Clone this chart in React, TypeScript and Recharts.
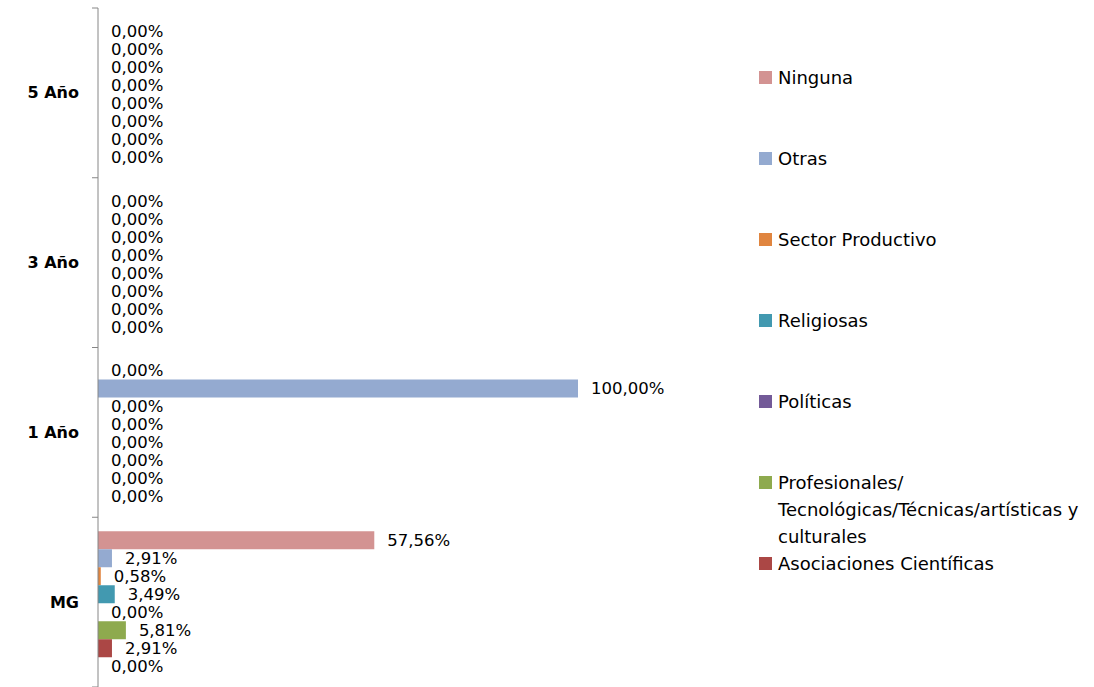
import { BarChart, Bar, XAxis, YAxis, Legend, LabelList } from "recharts";

// categories, top to bottom
const categories = ["5 Año", "3 Año", "1 Año", "MG"];

const seriesNames = [
  "Ninguna",
  "Otras",
  "Sector Productivo",
  "Religiosas",
  "Políticas",
  "Profesionales/ Tecnológicas/Técnicas/artísticas y culturales",
  "Asociaciones Científicas",
  "Serie 8",
];
const seriesColors = ["#D39392", "#94AAD0", "#E0853F", "#4299B0", "#735A98", "#8EAA4E", "#AB4745", "#4F81BD"];

// values per category (5 Año, 3 Año, 1 Año, MG)
const ninguna = [0, 0, 0, 57.56];
const otras = [0, 0, 100, 2.91];
const sectorProductivo = [0, 0, 0, 0.58];
const religiosas = [0, 0, 0, 3.49];
const politicas = [0, 0, 0, 0];
const profesionales = [0, 0, 0, 5.81];
const asociaciones = [0, 0, 0, 2.91];
const serie8 = [0, 0, 0, 0];

const seriesValues = [ninguna, otras, sectorProductivo, religiosas, politicas, profesionales, asociaciones, serie8];

const data = categories.map((name, i) => {
  const row: Record<string, string | number> = { name };
  seriesValues.forEach((vals, s) => {
    row["s" + s] = vals[i];
  });
  return row;
});

const AXIS_COLOR = "#868686";
const TICK_SIZE = 6;
const TICK_MARGIN = 13;
const FONT = "'DejaVu Sans', sans-serif";

const fmt = (v: any) => Number(v).toFixed(2).replace(".", ",") + "%";

function CategoryTick(props: any) {
  const { x, y, payload, index, visibleTicksCount } = props;
  const half = payload && payload.offset ? payload.offset : 0;
  const lx = x + TICK_MARGIN;
  return (
    <g>
      <line x1={lx} x2={lx + TICK_SIZE} y1={y - half} y2={y - half} stroke={AXIS_COLOR} />
      {index === visibleTicksCount - 1 && (
        <line x1={lx} x2={lx + TICK_SIZE} y1={y + half} y2={y + half} stroke={AXIS_COLOR} />
      )}
      <text
        x={x}
        y={y}
        textAnchor="end"
        dominantBaseline="central"
        fontFamily={FONT}
        fontWeight="bold"
        fontSize={16}
        fill="#000"
      >
        {payload.value}
      </text>
    </g>
  );
}

function LegendContent(props: any) {
  const items = (props.payload || [])
    .filter((p: any) => p.type !== "none")
    .slice()
    .sort((a: any, b: any) => seriesNames.indexOf(a.value) - seriesNames.indexOf(b.value));
  return (
    <div style={{ fontFamily: FONT, fontSize: 18, lineHeight: "27px", color: "#000" }}>
      {items.map((p: any) => {
        const words = String(p.value).split(" ");
        return (
          <div key={p.value} style={{ height: 81, display: "flex", alignItems: "flex-start" }}>
            <span
              style={{
                width: 13,
                height: 13,
                marginTop: 7,
                marginRight: 6,
                background: p.color,
                flex: "none",
              }}
            />
            <div style={{ width: 314 }}>
              {words.map((w: string, i: number) => (
                <span key={i}>
                  {i > 0 ? " " : ""}
                  <span style={{ whiteSpace: "nowrap" }}>{w}</span>
                </span>
              ))}
            </div>
          </div>
        );
      })}
    </div>
  );
}

export default function App() {
  return (
    <div style={{ position: "absolute", left: 0, top: 0, width: 1094, height: 687, overflow: "hidden", background: "#fff" }}>
      <BarChart
        width={1094}
        height={687}
        data={data}
        layout="vertical"
        margin={{ top: 8, right: 516, bottom: 0, left: 0 }}
        barCategoryGap={14}
        barGap={0}
      >
        <XAxis type="number" domain={[0, 100]} hide />
        <YAxis
          type="category"
          dataKey="name"
          width={98}
          axisLine={{ stroke: AXIS_COLOR }}
          tickLine={false}
          tickSize={TICK_SIZE}
          tickMargin={TICK_MARGIN}
          tick={<CategoryTick />}
          interval={0}
        />
        <Legend
          layout="vertical"
          align="center"
          verticalAlign="middle"
          content={<LegendContent />}
          wrapperStyle={{ left: 759, top: 64, width: 335 }}
        />
        {seriesNames.map((n, s) => (
          <Bar
            key={n}
            dataKey={"s" + s}
            name={n}
            fill={seriesColors[s]}
            legendType={s === 7 ? "none" : "square"}
            minPointSize={0.001}
            isAnimationActive={false}
          >
            <LabelList
              dataKey={"s" + s}
              position="right"
              offset={13}
              formatter={fmt}
              style={{ fontFamily: FONT, fontSize: 16.5, fill: "#000" }}
            />
          </Bar>
        ))}
      </BarChart>
    </div>
  );
}
